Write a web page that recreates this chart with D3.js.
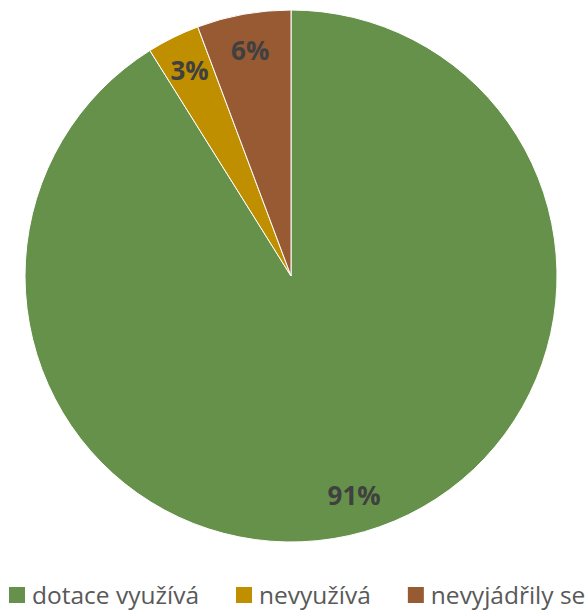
<!DOCTYPE html>
<html>
<head>
<meta charset="utf-8">
<script src="https://cdn.jsdelivr.net/npm/d3@7"></script>
<style>
  body { margin: 0; background: #fff; }
  svg { display: block; }
</style>
</head>
<body>
<div id="chart"></div>
<script>
var categories = ["dotace využívá", "nevyužívá", "nevyjádřily se"];
var values = [91.1, 3.2, 5.7];
var labels = ["91%", "3%", "6%"];
var colors = ["#66914a", "#bf8f00", "#975a33"];

var width = 587, height = 611;
var cx = 291, cy = 276, radius = 266;

var svg = d3.select("#chart")
  .append("svg")
  .attr("width", width)
  .attr("height", height);

var data = categories.map(function (c, i) {
  return { name: c, value: values[i], label: labels[i], color: colors[i] };
});

var pie = d3.pie()
  .sort(null)
  .value(function (d) { return d.value; });

var arc = d3.arc().innerRadius(0).outerRadius(radius);
var labelArc = d3.arc().innerRadius(229).outerRadius(229);

var g = svg.append("g")
  .attr("transform", "translate(" + cx + "," + cy + ")");

var slices = pie(data);

g.selectAll("path")
  .data(slices)
  .enter()
  .append("path")
  .attr("d", arc)
  .attr("fill", function (d) { return d.data.color; })
  .attr("stroke", "#fff")
  .attr("stroke-width", 1);

g.selectAll("text.lbl")
  .data(slices)
  .enter()
  .append("text")
  .attr("class", "lbl")
  .attr("transform", function (d) { return "translate(" + labelArc.centroid(d) + ")"; })
  .attr("text-anchor", "middle")
  .attr("dy", "0.36em")
  .style("font-family", "'Open Sans', sans-serif")
  .style("font-weight", "bold")
  .style("font-size", "26px")
  .style("fill", "#404040")
  .text(function (d) { return d.data.label; });

// legend
var legend = svg.append("g").attr("transform", "translate(0,595)");
var lx = 9;
data.forEach(function (d) {
  var item = legend.append("g").attr("transform", "translate(" + lx + ",0)");
  item.append("rect")
    .attr("x", 0).attr("y", -8)
    .attr("width", 16).attr("height", 16)
    .attr("fill", d.color);
  var t = item.append("text")
    .attr("x", 23)
    .attr("dy", "0.35em")
    .style("font-family", "'Open Sans', sans-serif")
    .style("font-size", "24.5px")
    .style("fill", "#595959")
    .text(d.name);
  lx += 23 + t.node().getComputedTextLength() + 37;
});
</script>
</body>
</html>
